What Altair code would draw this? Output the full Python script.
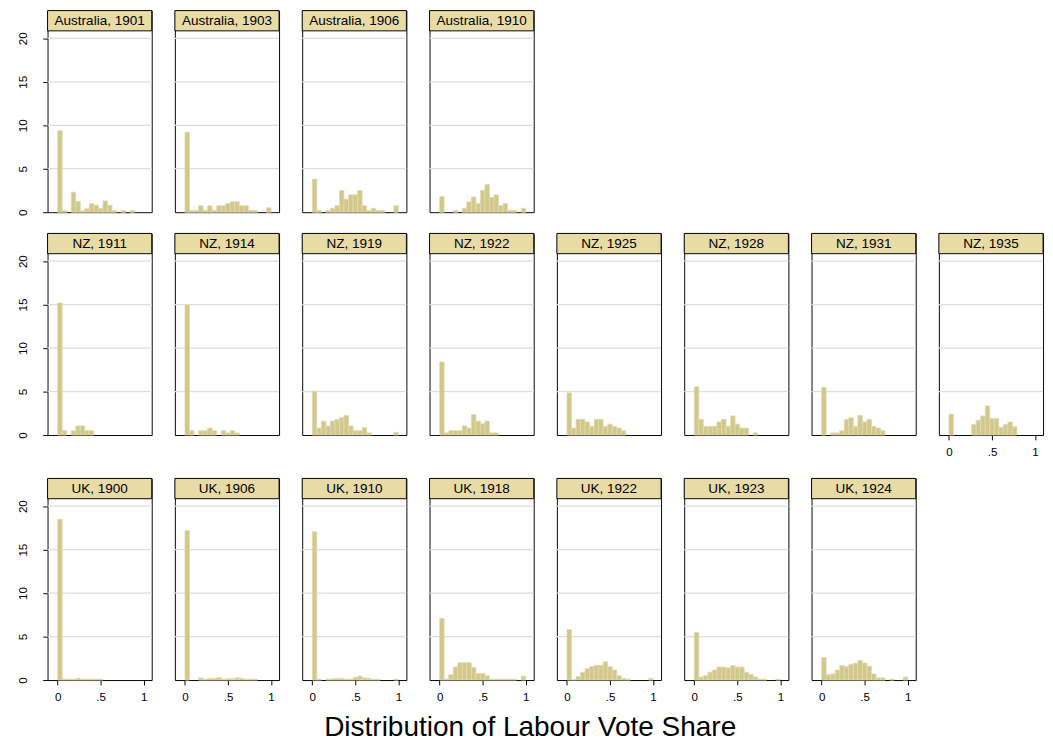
import altair as alt
import pandas as pd

FONT = "Liberation Sans"
BAR_FILL = "#d2c88b"
BAR_STROKE = "#e2dbb0"
STRIP_FILL = "#e8dba6"
GRID_COLOR = "#dedede"

W = 108      # panel plot width
PH = 188     # plot region height (below the strip)
SH = 21      # strip height
Y_TOP = 20.86                      # top of the plot region in data units
Y_MAX = Y_TOP * (PH + SH) / PH     # strip sits above the plot region

N_BINS = 19
bin_edges = [i / N_BINS for i in range(N_BINS + 1)]
grid_values = [5, 10, 15, 20]
y_ticks = [0, 5, 10, 15, 20]
x_ticks = [0, 0.5, 1]

# densities per bin
aus_1901 = [9.4, 0.2, 0, 2.3, 1.25, 0.15, 0.4, 1.0, 0.8, 0.45, 1.3, 0.8, 0.2, 0, 0.2, 0, 0.2, 0, 0]
aus_1903 = [9.2, 0.2, 0.2, 0.75, 0.2, 0.75, 0.2, 0.75, 0.75, 1.0, 1.2, 1.2, 0.75, 0.75, 0.2, 0.2, 0, 0, 0.5]
aus_1906 = [3.8, 0.2, 0, 0.2, 0.45, 0.75, 2.5, 1.5, 2.0, 2.0, 2.5, 0.75, 0.2, 0.45, 0.2, 0.2, 0, 0, 0.75]
aus_1910 = [1.8, 0, 0, 0.2, 0, 0.45, 1.2, 1.75, 1.0, 2.5, 3.2, 1.7, 2.0, 0.75, 1.0, 0.2, 0.2, 0, 0.45]

nz_1911 = [15.2, 0.5, 0, 0.5, 1.05, 1.05, 0.5, 0.5, 0, 0, 0, 0, 0, 0, 0, 0, 0, 0, 0]
nz_1914 = [15.0, 0.5, 0, 0.5, 0.5, 0.8, 0.5, 0, 0.5, 0.25, 0.5, 0.25, 0, 0, 0, 0, 0, 0, 0]
nz_1919 = [5.05, 0.8, 1.6, 1.05, 1.6, 1.8, 2.0, 2.25, 1.05, 0.5, 0.5, 0.85, 0.25, 0, 0, 0, 0, 0, 0.3]
nz_1922 = [8.4, 0.25, 0.5, 0.5, 0.5, 1.05, 0.8, 2.35, 1.6, 1.3, 1.6, 0.25, 0.25, 0, 0, 0, 0, 0, 0]
nz_1925 = [4.85, 0.8, 1.8, 1.8, 1.5, 1.0, 1.8, 1.8, 1.0, 1.25, 1.0, 0.8, 0.5, 0, 0, 0, 0, 0, 0]
nz_1928 = [5.55, 1.8, 1.0, 1.0, 1.0, 1.5, 1.8, 1.0, 2.2, 1.25, 0.8, 0.8, 0, 0.25, 0, 0, 0, 0, 0]
nz_1931 = [5.5, 0, 0.25, 0.25, 0.5, 1.8, 2.0, 1.0, 2.25, 1.5, 1.8, 1.0, 0.8, 0.5, 0, 0, 0, 0, 0]
nz_1935 = [2.4, 0, 0, 0, 0, 1.2, 1.7, 2.2, 3.35, 1.9, 1.9, 0.9, 1.2, 1.5, 1.0, 0, 0, 0, 0]

uk_1900 = [18.5, 0.1, 0.1, 0.1, 0.2, 0.1, 0.1, 0.1, 0.1, 0.1, 0, 0, 0, 0, 0, 0, 0, 0, 0]
uk_1906 = [17.2, 0, 0, 0.25, 0.1, 0.2, 0.2, 0.3, 0.1, 0.15, 0.15, 0.25, 0.2, 0.1, 0.1, 0.1, 0, 0, 0]
uk_1910 = [17.05, 0.1, 0, 0.1, 0.15, 0.2, 0.2, 0.1, 0.1, 0.3, 0.45, 0.25, 0.2, 0.1, 0.1, 0, 0, 0, 0.1]
uk_1918 = [7.1, 0.1, 0.6, 1.5, 2.0, 2.0, 2.0, 1.45, 0.75, 0.75, 0.5, 0.1, 0.1, 0.1, 0.1, 0.1, 0.1, 0, 0.45]
uk_1922 = [5.8, 0.05, 0.4, 0.9, 1.3, 1.55, 1.7, 1.7, 2.1, 1.55, 1.15, 0.5, 0.2, 0.1, 0, 0, 0, 0, 0.2]
uk_1923 = [5.5, 0.35, 0.5, 0.9, 1.15, 1.5, 1.5, 1.4, 1.65, 1.5, 1.5, 0.9, 0.65, 0.35, 0.1, 0.1, 0, 0, 0.1]
uk_1924 = [2.6, 0.6, 0.7, 1.15, 1.65, 1.55, 1.8, 1.95, 2.25, 1.95, 1.6, 0.7, 0.25, 0.25, 0, 0.1, 0, 0, 0.35]

rows = [
    [("Australia, 1901", aus_1901), ("Australia, 1903", aus_1903),
     ("Australia, 1906", aus_1906), ("Australia, 1910", aus_1910)],
    [("NZ, 1911", nz_1911), ("NZ, 1914", nz_1914), ("NZ, 1919", nz_1919),
     ("NZ, 1922", nz_1922), ("NZ, 1925", nz_1925), ("NZ, 1928", nz_1928),
     ("NZ, 1931", nz_1931), ("NZ, 1935", nz_1935)],
    [("UK, 1900", uk_1900), ("UK, 1906", uk_1906), ("UK, 1910", uk_1910),
     ("UK, 1918", uk_1918), ("UK, 1922", uk_1922), ("UK, 1923", uk_1923),
     ("UK, 1924", uk_1924)],
]

xscale = alt.Scale(domain=[-0.117, 1.093], nice=False, zero=False)
yscale = alt.Scale(domain=[0, Y_MAX], nice=False, zero=False)

y_axis = alt.Axis(values=y_ticks, labelAngle=270, labelAlign="center",
                  labelBaseline="bottom", labelPadding=14, tickSize=5,
                  tickColor="black", domain=False, grid=False, labelFont=FONT,
                  labelFontSize=12, labelColor="black")
x_axis = alt.Axis(values=x_ticks,
                  labelExpr="datum.value == 0.5 ? '.5' : (datum.value == 0 ? '0' : '1')",
                  tickSize=5, tickColor="black", labelPadding=7.5, domain=False,
                  grid=False, labelFont=FONT, labelFontSize=12, labelColor="black",
                  labelFlush=False)


def panel(label, values, show_y, show_x):
    df = pd.DataFrame({"start": bin_edges[:-1], "end": bin_edges[1:],
                       "density": values})
    df = df[df["density"] > 0]
    yax = y_axis if show_y else None
    xax = x_axis if show_x else None
    grid = alt.Chart(pd.DataFrame({"density": grid_values})).mark_rule(
        color=GRID_COLOR, strokeWidth=1.3).encode(
        y=alt.Y("density:Q", scale=yscale, axis=yax, title=None))
    bars = alt.Chart(df).mark_rect(fill=BAR_FILL, stroke=BAR_STROKE,
                                   strokeWidth=0.8).encode(
        x=alt.X("start:Q", scale=xscale, axis=xax, title=None),
        x2="end:Q",
        y=alt.Y("density:Q", scale=yscale, axis=yax, title=None),
        y2=alt.datum(0))
    lab = alt.Chart(pd.DataFrame({"label": [label]}))
    strip_rect = lab.mark_rect(fill=STRIP_FILL, stroke="black",
                               strokeWidth=1).encode(
        x=alt.value(0), x2=alt.value(W), y=alt.value(0), y2=alt.value(SH))
    strip_text = lab.mark_text(font=FONT, fontSize=14, color="black",
                               align="center", baseline="middle").encode(
        x=alt.value(W / 2), y=alt.value(SH / 2 + 0.5), text="label:N")
    return alt.layer(grid, bars, strip_rect, strip_text).properties(
        width=W, height=PH + SH)


row_charts = []
for r, row in enumerate(rows):
    cols = []
    for c, (label, vals) in enumerate(row):
        show_y = c == 0
        show_x = (r == 2) or (r == 1 and c == 7)
        cols.append(panel(label, vals, show_y, show_x))
    row_charts.append(alt.hconcat(*cols, spacing=20))

upper = alt.vconcat(row_charts[0], row_charts[1], spacing=17)
chart = alt.vconcat(upper, row_charts[2], spacing=20).properties(
    title=alt.TitleParams("Distribution of Labour Vote Share", orient="bottom",
                          anchor="middle", font=FONT, fontSize=29,
                          fontWeight="normal", color="black", offset=11),
    padding={"left": 8, "top": -12, "right": 0, "bottom": 0},
    background="white",
).configure_view(stroke="black", strokeWidth=1)

chart.save("out.html", embed_options={"renderer": "svg", "actions": False})
